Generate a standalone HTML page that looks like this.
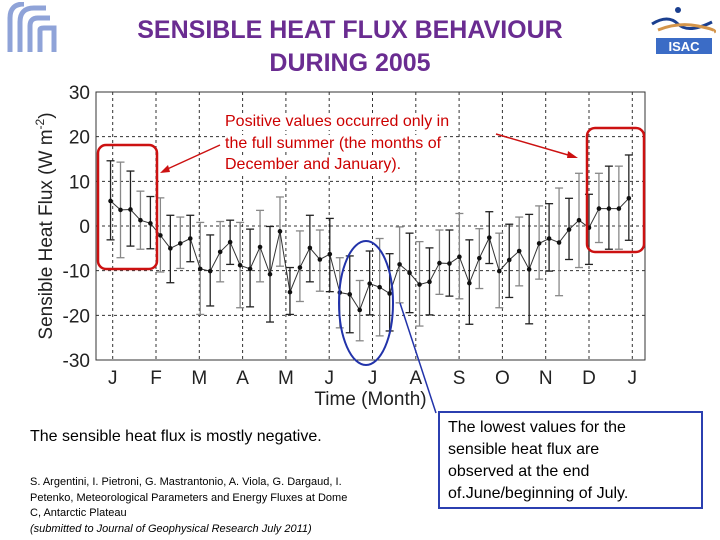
<!DOCTYPE html>
<html><head><meta charset="utf-8"><style>
body{margin:0;width:720px;height:540px;background:#fff;overflow:hidden;font-family:"Liberation Sans",Arial,sans-serif;position:relative}
.t{position:absolute}
.bg{background:#fff}
</style></head><body>
<div class="t" style="left:2px;top:2px;width:58px;height:52px">
<svg width="58" height="52"><g fill="none" stroke="#8fa3d8" stroke-width="5"><path d="M18 50 V20 Q18 6 32 6 H44"/><path d="M28 50 V24 Q28 16 36 16 H48"/><path d="M38 50 V28 Q38 26 42 26 H52 V50"/><path d="M8 50 V16 Q8 2 22 2"/></g></svg></div>
<div class="t" style="left:648px;top:2px;width:68px;height:54px">
<svg width="68" height="54"><path d="M4 22 Q20 12 30 22 T64 20" stroke="#1a3f8f" stroke-width="3" fill="none"/><path d="M10 28 Q30 20 50 24 T66 30" stroke="#d4954a" stroke-width="3" fill="none"/><circle cx="30" cy="8" r="3" fill="#1a3f8f"/><rect x="8" y="36" width="56" height="16" fill="#3b6cc6"/><text x="36" y="49" font-size="13" fill="#fff" text-anchor="middle" font-weight="bold" font-family="Liberation Sans">ISAC</text></svg></div>
<div class="t" style="left:90px;top:14px;width:520px;text-align:center;color:#6a2c91;font-weight:bold;font-size:25px;line-height:33px">SENSIBLE HEAT FLUX BEHAVIOUR<br>DURING 2005</div>
<svg class="t" style="left:0;top:0" width="720" height="540" id="chart"></svg>
<div class="t" style="left:225px;top:111px;color:#cc0000;font-size:16px;line-height:21.5px"><span class="bg">Positive values occurred only in</span><br><span class="bg">the full summer (the months of</span><br><span class="bg">December and January).</span></div>
<div class="t" style="left:30px;top:428px;font-size:16px">The sensible heat flux is mostly negative.</div>
<div class="t" style="left:30px;top:475px;font-size:11px;line-height:15.5px;width:322px">S. Argentini, I. Pietroni, G. Mastrantonio, A. Viola, G. Dargaud, I. Petenko, Meteorological Parameters and Energy Fluxes at Dome C, Antarctic Plateau<br><i>(submitted to Journal of Geophysical Research July 2011)</i></div>
<div class="t" style="left:438px;top:411px;width:253px;height:90px;border:2px solid #2b3fb0;padding:4px 0 0 8px;font-size:16px;line-height:22px"><div style="width:205px">The lowest values for the sensible heat flux are observed at the end of.June/beginning of July.</div></div>
<script>
const weeks=[0,1,2,3,4,5,6,7,8,9,10,11,12,13,14,15,16,17,18,19,20,21,22,23,24,25,26,27,28,29,30,31,32,33,34,35,36,37,38,39,40,41,42,43,44,45,46,47,48,49,50,51,52];
const fluxMean=[5.6,3.6,3.7,1.3,0.6,-2.1,-5.0,-3.9,-2.8,-9.6,-10.1,-5.8,-3.6,-8.8,-9.6,-4.7,-10.8,-1.2,-14.8,-9.3,-4.9,-7.5,-6.3,-14.9,-15.3,-18.8,-12.9,-13.7,-15.1,-8.6,-10.5,-13.1,-12.5,-8.3,-8.4,-6.9,-12.8,-7.2,-2.6,-10.1,-7.6,-5.6,-9.7,-3.9,-2.8,-3.7,-0.8,1.3,-0.4,3.9,3.9,3.9,6.2];
const fluxUpper=[14.6,14.3,12.3,7.8,6.6,6.3,2.4,2.0,2.4,0.8,-2.0,1.0,1.3,0.8,-0.7,3.5,-0.1,6.5,-9.3,-1.1,2.4,-0.9,1.7,-7.1,-6.7,-12.2,-5.6,-2.8,-6.2,-0.2,-1.6,-3.5,-4.9,-0.9,-0.9,2.8,-3.1,-0.6,3.2,-1.6,0.4,2.0,2.6,4.5,5.0,8.5,6.2,11.8,7.1,11.8,13.4,13.4,15.9];
const fluxLower=[-3.1,-7.1,-4.5,-5.2,-5.1,-10.3,-12.7,-9.5,-8.0,-19.8,-17.9,-12.5,-8.6,-18.3,-18.1,-12.5,-21.5,-9.0,-19.8,-16.9,-12.5,-14.6,-14.7,-22.8,-23.9,-25.7,-19.9,-24.6,-23.5,-17.2,-19.4,-22.4,-19.9,-15.3,-15.7,-16.3,-22.0,-14.0,-8.4,-18.3,-16.0,-13.4,-21.9,-11.9,-10.1,-15.6,-7.5,-9.3,-8.6,-3.7,-5.2,-5.2,-3.2];
const yTicks=[30,20,10,0,-10,-20,-30];
const monthLabels=['J','F','M','A','M','J','J','A','S','O','N','D','J'];
const svg=document.getElementById('chart');const NS='http://www.w3.org/2000/svg';
const L=96,R=645,T=92,B=360;
const y=v=>T+(30-v)/60*(B-T);
const xm=m=>112.7+m*43.3;
const xw=w=>xm(-0.05+w*(11.97/52));
function el(tag,a,p){const e=document.createElementNS(NS,tag);for(const k in a)e.setAttribute(k,a[k]);(p||svg).appendChild(e);return e;}
const frame=el('rect',{x:L,y:T,width:R-L,height:B-T,fill:'#fff',stroke:'#333','stroke-width':1});

yTicks.forEach(v=>{
 if(v<30&&v>-30){const g=el('line',{x1:L,x2:R,y1:y(v),y2:y(v),stroke:'#333','stroke-dasharray':'3,3','stroke-width':1});}
 const t=el('text',{x:L-6,y:y(v)+7,'text-anchor':'end','font-size':19,fill:'#222','font-family':'Liberation Sans'});t.textContent=v;
 
});
monthLabels.forEach((m,i)=>{
 const g=el('line',{x1:xm(i),x2:xm(i),y1:T,y2:B,stroke:'#333','stroke-dasharray':'3,3','stroke-width':1});
 
 const t=el('text',{x:xm(i),y:B+24,'text-anchor':'middle','font-size':19,fill:'#222','font-family':'Liberation Sans'});t.textContent=m;
 
});
const xt=el('text',{x:(L+R)/2,y:405,'text-anchor':'middle','font-size':19,fill:'#222','font-family':'Liberation Sans'});xt.textContent='Time (Month)';

const yt=el('text',{x:0,y:0,'text-anchor':'middle','font-size':19,fill:'#222','font-family':'Liberation Sans',transform:'translate(52,'+((T+B)/2)+') rotate(-90)'});
yt.innerHTML='Sensible Heat Flux (W m<tspan dy="-8" font-size="12">-2</tspan><tspan dy="8">)</tspan>';

weeks.forEach((w,i)=>{
 const c=i%2?'#888':'#222',x=xw(w);
 const g=el('g',{stroke:c,'stroke-width':1.3});
 
 el('line',{x1:x,x2:x,y1:y(fluxUpper[i]),y2:y(fluxLower[i])},g);
 el('line',{x1:x-4,x2:x+4,y1:y(fluxUpper[i]),y2:y(fluxUpper[i])},g);
 el('line',{x1:x-4,x2:x+4,y1:y(fluxLower[i]),y2:y(fluxLower[i])},g);
});
const line=el('polyline',{points:weeks.map((w,i)=>xw(w)+','+y(fluxMean[i])).join(' '),fill:'none',stroke:'#333','stroke-width':1});

weeks.forEach((w,i)=>{const p=el('circle',{cx:xw(w),cy:y(fluxMean[i]),r:2.3,fill:'#111'});
 });
const ann=[
 ['rect',{x:98,y:145,width:59,height:124,rx:8,fill:'none',stroke:'#cc1111','stroke-width':2.5},'summer-box-jan'],
 ['rect',{x:587,y:128,width:57,height:124,rx:8,fill:'none',stroke:'#cc1111','stroke-width':2.5},'summer-box-dec'],
 ['ellipse',{cx:366,cy:303,rx:27,ry:62,fill:'none',stroke:'#2233aa','stroke-width':2},'winter-ellipse'],
 ['line',{x1:220,y1:145,x2:163,y2:171,stroke:'#cc1111','stroke-width':1.5},'arrow-left'],
 ['line',{x1:496,y1:134,x2:575,y2:157,stroke:'#cc1111','stroke-width':1.5},'arrow-right'],
 ['line',{x1:400,y1:303,x2:436,y2:413,stroke:'#2233aa','stroke-width':1.5},'pointer-lowest']];
ann.forEach(a=>{const e=el(a[0],a[1]);});
el('polygon',{points:'160,173 168,165 170,172',fill:'#cc1111'});
el('polygon',{points:'578,158 568,151 567,158',fill:'#cc1111'});
</script>
</body></html>
